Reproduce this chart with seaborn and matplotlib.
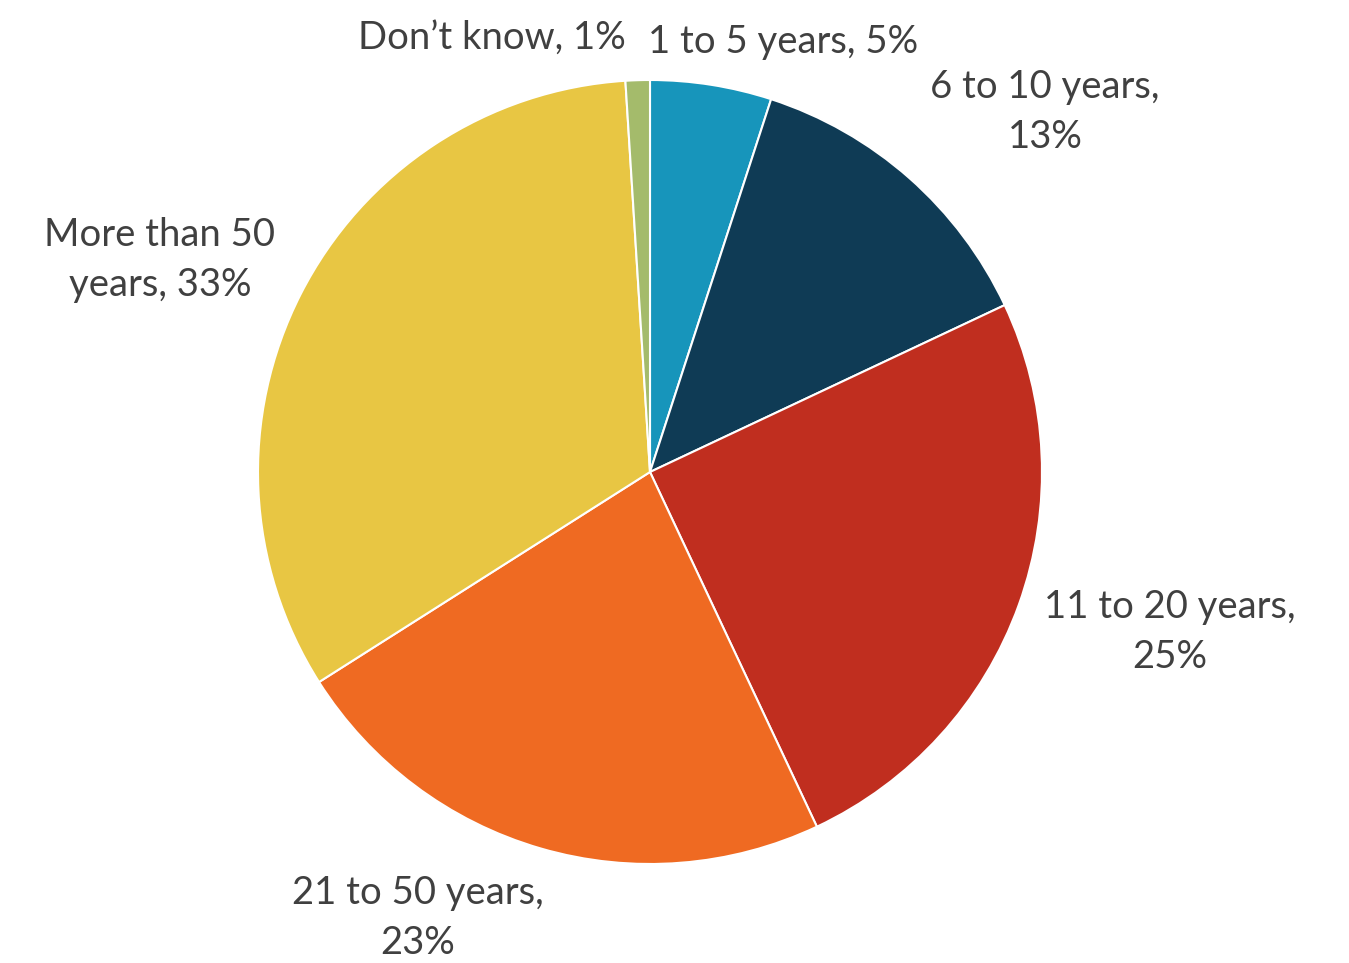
import matplotlib
matplotlib.use("Agg")
import matplotlib.pyplot as plt
import seaborn as sns

categories = ["1 to 5 years", "6 to 10 years", "11 to 20 years",
              "21 to 50 years", "More than 50 years", "Don\u2019t know"]
shares = [5, 13, 25, 23, 33, 1]
colors = ["#1795BB", "#0F3B55", "#C02E1F", "#EF6A22", "#E8C643", "#A4BB6B"]
label_texts = ["1 to 5 years, 5%", "6 to 10 years,\n13%", "11 to 20 years,\n25%",
               "21 to 50 years,\n23%", "More than 50\nyears, 33%", "Don\u2019t know, 1%"]
# label centres in pixel space (x from left, y from top)
label_pos = [(783, 42), (1045, 112), (1170, 632), (418, 918), (160, 260), (492, 38)]

sns.set_theme(style="white")
plt.rcParams["font.family"] = ["Lato", "DejaVu Sans"]

W, H = 1349, 963
fig = plt.figure(figsize=(W / 100, H / 100), dpi=100)
ax = fig.add_axes([0, 0, 1, 1])

cx, cy, r = 650, 472, 392
ax.pie(shares, colors=colors, startangle=90, counterclock=False,
       center=(cx, H - cy), radius=r, frame=True,
       wedgeprops=dict(edgecolor="white", linewidth=1.5))
ax.set_xlim(0, W)
ax.set_ylim(0, H)
ax.set_aspect("equal")
ax.axis("off")

for txt, (px, py) in zip(label_texts, label_pos):
    ax.text(px, H - py, txt, ha="center", va="center", fontsize=27.5,
            color="#404040", linespacing=1.45)

fig.savefig("out.png", dpi=100)
